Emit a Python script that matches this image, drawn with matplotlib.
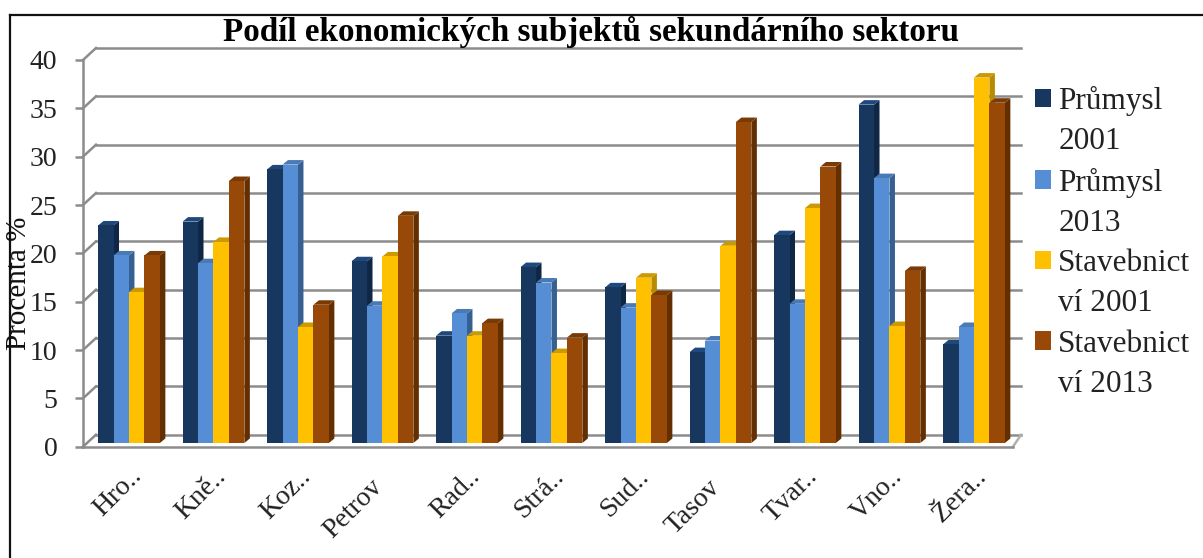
import matplotlib
matplotlib.use('Agg')
import matplotlib.pyplot as plt
from matplotlib.lines import Line2D
from matplotlib.patches import Patch, Polygon
from matplotlib.transforms import ScaledTranslation

plt.rcParams['font.family'] = ['Liberation Serif', 'DejaVu Serif']

# values
towns = ['Hro..', 'Kně..', 'Koz..', 'Petrov', 'Rad..', 'Strá..', 'Sud..', 'Tasov', 'Tvar..', 'Vno..', 'Žera..']
prumysl_2001 = [22.5, 22.9, 28.3, 18.8, 11.1, 18.2, 16.1, 9.4, 21.5, 35.0, 10.2]
prumysl_2013 = [19.4, 18.6, 28.8, 14.2, 13.4, 16.6, 14.0, 10.6, 14.4, 27.4, 12.0]
stavebnictvi_2001 = [15.6, 20.8, 12.0, 19.3, 11.1, 9.3, 17.1, 20.4, 24.3, 12.1, 37.8]
stavebnictvi_2013 = [19.4, 27.1, 14.3, 23.5, 12.4, 10.9, 15.3, 33.2, 28.6, 17.8, 35.2]
yticks = [0, 5, 10, 15, 20, 25, 30, 35, 40]

series = [prumysl_2001, prumysl_2013, stavebnictvi_2001, stavebnictvi_2013]
labels = [('Průmysl', '2001'), ('Průmysl', '2013'), ('Stavebnict', 'ví 2001'), ('Stavebnict', 'ví 2013')]
front = ['#17375E', '#558ED5', '#FFC000', '#984807']
side = ['#0F2644', '#376092', '#B98C00', '#632F00']
top = ['#1F497D', '#4A7AB5', '#CC9A00', '#7A3A05']
GREY = '#8C8C8C'

W, H = 1203, 558
fig = plt.figure(figsize=(W / 100, H / 100), dpi=100)
ax = fig.add_axes([83 / W, 1 - 446.7 / H, 930 / W, 386.7 / H])
ax.set_xlim(-0.544, 10.462)
ax.set_ylim(0, 40)

# px to data
px_x = 1 / 84.5
px_y = 40 / 386.7
wall_dx, wall_dy = 13 * px_x, 12 * px_y
depth_x, depth_y = 5.5 * px_x, 4.5 * px_y
lift = 3.7 * px_y
bar_w = 15.45 * px_x

# back wall and floor
for v in yticks:
    ax.plot([-0.544, -0.544 + wall_dx], [v, v + wall_dy], color=GREY, lw=1.8, clip_on=False, zorder=1)
    ax.plot([-0.544 + wall_dx, 10.462 + wall_dx * 0.62], [v + wall_dy, v + wall_dy], color=GREY, lw=1.8,
            clip_on=False, zorder=1)
ax.plot([10.462, 10.462 + wall_dx * 0.62], [0, wall_dy], color='#B0B0B0', lw=1.8, clip_on=False, zorder=1)

for s, vals in enumerate(series):
    offset = (s - 1.5) * bar_w
    for i, v in enumerate(vals):
        x0 = i + offset - bar_w / 2
        x1 = x0 + bar_w
        y1 = v + lift
        z = 3 + s + i * 4
        ax.bar(x0, v, width=bar_w, bottom=lift, align='edge', color=front[s], zorder=z + 0.5)
        ax.add_patch(Polygon([(x1, lift), (x1 + depth_x, lift + depth_y), (x1 + depth_x, y1 + depth_y), (x1, y1)],
                             closed=True, facecolor=side[s], edgecolor='none', zorder=z))
        ax.add_patch(Polygon([(x0, y1), (x0 + depth_x, y1 + depth_y), (x1 + depth_x, y1 + depth_y), (x1, y1)],
                             closed=True, facecolor=top[s], edgecolor='none', zorder=z))

for name in ['top', 'right']:
    ax.spines[name].set_visible(False)
for name in ['left', 'bottom']:
    ax.spines[name].set_color(GREY)
    ax.spines[name].set_linewidth(1.8)
    ax.spines[name].set_zorder(2)

ax.set_yticks(yticks)
ax.tick_params(axis='y', length=6, width=1.8, color=GREY, labelsize=20, pad=12.5, labelcolor='#222222')
ax.set_xticks(range(len(towns)))
ax.set_xticklabels(towns, rotation=45, ha='right', rotation_mode='anchor', fontsize=20, color='#222222')
ax.tick_params(axis='x', length=0, pad=13)

# cut labels sit further right and higher than the whole ones
for lab in ax.get_xticklabels():
    if lab.get_text().endswith('..'):
        dx, dy = 0, 1
    else:
        dx, dy = -13, -10
    lab.set_transform(lab.get_transform() + ScaledTranslation(dx / 100, dy / 100, fig.dpi_scale_trans))

fig.text(19 / W, 1 - 283 / H, 'Procenta %', rotation=90, ha='center', va='center', fontsize=21, color='#111111')
fig.text(591 / W, 1 - 32 / H, 'Podíl ekonomických subjektů sekundárního sektoru', ha='center', va='center',
         fontsize=23.9, fontweight='bold', color='black')

# each label line is one legend row, second rows have an empty handle
handles, rows = [], []
for c, (line1, line2) in zip(front, labels):
    handles += [Patch(facecolor=c, edgecolor='none'), Patch(facecolor='none', edgecolor='none')]
    rows += [line1, line2]
leg = fig.legend(handles, rows, loc='upper left', bbox_to_anchor=(1035 / W, 1 - 86 / H), frameon=False,
                 fontsize=22.5, handlelength=0.52, handleheight=0.52, handletextpad=0.22, labelspacing=0.36,
                 borderpad=0, borderaxespad=0, labelcolor='#222222')

# outer frame, open at right and bottom
fig.add_artist(Line2D([9.5 / W, 9.5 / W], [0, 1 - 14.5 / H], color='#111111', lw=1.6))
fig.add_artist(Line2D([9.5 / W, 1], [1 - 14.5 / H, 1 - 14.5 / H], color='#111111', lw=1.6))

plt.savefig('out.png', dpi=100)
plt.close()
